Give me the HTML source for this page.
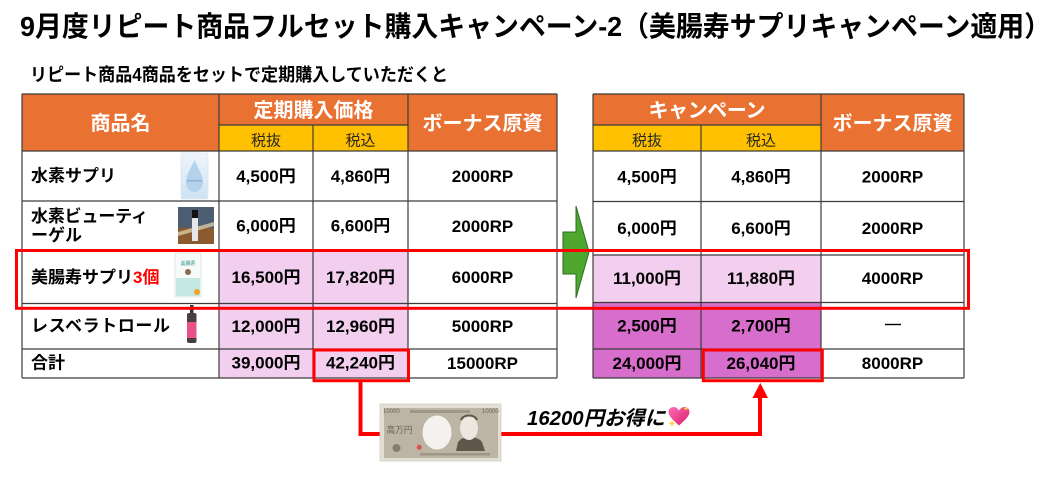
<!DOCTYPE html>
<html><head><meta charset="utf-8">
<style>
html,body{margin:0;padding:0;background:#fff;}
svg{display:block;}
text{font-family:"Liberation Sans","Noto Sans CJK JP",sans-serif;}
</style></head><body>
<svg width="1041" height="488" viewBox="0 0 1041 488" xmlns="http://www.w3.org/2000/svg">
<defs>
<linearGradient id="hg" x1="0" y1="0" x2="1" y2="1">
<stop offset="0" stop-color="#ff6fb5"/><stop offset="1" stop-color="#d81b6a"/>
</linearGradient>
<linearGradient id="pg" x1="0" y1="0" x2="0" y2="1">
<stop offset="0" stop-color="#eef5fb"/><stop offset="1" stop-color="#cfe2f2"/>
</linearGradient>
</defs>
<rect width="1041" height="488" fill="#fff"/>

<!-- Title -->
<text x="20" y="36" font-size="28" font-weight="bold" fill="#000" textLength="1031" lengthAdjust="spacingAndGlyphs">9月度リピート商品フルセット購入キャンペーン-2（美腸寿サプリキャンペーン適用）</text>
<text x="30" y="81" font-size="18" font-weight="bold" fill="#000" textLength="418" lengthAdjust="spacingAndGlyphs">リピート商品4商品をセットで定期購入していただくと</text>

<!-- LEFT TABLE fills -->
<rect x="22" y="94" width="535" height="57" fill="#E97132"/>
<rect x="219" y="125" width="189" height="26" fill="#FFC000"/>
<rect x="219" y="250" width="189" height="128" fill="#F2CEEF"/>

<!-- RIGHT TABLE fills -->
<rect x="593" y="94" width="371" height="57" fill="#E97132"/>
<rect x="593" y="125" width="228" height="26" fill="#FFC000"/>
<rect x="593" y="255" width="228" height="47.5" fill="#F2CEEF"/>
<rect x="593" y="302.5" width="228" height="75.5" fill="#D86ECC"/>

<!-- grid lines -->
<g stroke="#3c3c3c" stroke-width="1.2" fill="none">
<line x1="22" y1="94" x2="557" y2="94"/>
<line x1="219" y1="125" x2="408" y2="125"/>
<line x1="22" y1="151" x2="557" y2="151"/>
<line x1="22" y1="201" x2="557" y2="201"/>
<line x1="22" y1="250" x2="557" y2="250"/>
<line x1="22" y1="303.5" x2="557" y2="303.5"/>
<line x1="22" y1="349" x2="557" y2="349"/>
<line x1="22" y1="378" x2="557" y2="378"/>
<line x1="22" y1="94" x2="22" y2="378"/>
<line x1="219" y1="94" x2="219" y2="378"/>
<line x1="313" y1="125" x2="313" y2="378"/>
<line x1="408" y1="94" x2="408" y2="378"/>
<line x1="557" y1="94" x2="557" y2="378"/>

<line x1="593" y1="94" x2="964" y2="94"/>
<line x1="593" y1="125" x2="821" y2="125"/>
<line x1="593" y1="151" x2="964" y2="151"/>
<line x1="593" y1="201.5" x2="964" y2="201.5"/>
<line x1="593" y1="255" x2="964" y2="255"/>
<line x1="593" y1="302.5" x2="964" y2="302.5"/>
<line x1="593" y1="349" x2="964" y2="349"/>
<line x1="593" y1="378" x2="964" y2="378"/>
<line x1="593" y1="94" x2="593" y2="378"/>
<line x1="701" y1="125" x2="701" y2="378"/>
<line x1="821" y1="94" x2="821" y2="378"/>
<line x1="964" y1="94" x2="964" y2="378"/>
</g>

<!-- header text -->
<g font-weight="bold" font-size="20" fill="#fff" text-anchor="middle">
<text x="120.5" y="130">商品名</text>
<text x="313.5" y="117">定期購入価格</text>
<text x="482.5" y="130">ボーナス原資</text>
<text x="707" y="117" textLength="117" lengthAdjust="spacing">キャンペーン</text>
<text x="892.5" y="130">ボーナス原資</text>
</g>
<g font-size="15" fill="#262626" text-anchor="middle">
<text x="266" y="145.5">税抜</text>
<text x="360.5" y="145.5">税込</text>
<text x="647" y="145.5">税抜</text>
<text x="761" y="145.5">税込</text>
</g>

<!-- left table body -->
<g font-weight="bold" font-size="17" fill="#000">
<text x="31" y="181.5">水素サプリ</text>
<text x="31" y="222" textLength="117" lengthAdjust="spacing">水素ビューティ</text>
<text x="31" y="241">ーゲル</text>
<text x="31" y="283">美腸寿サプリ<tspan fill="#ff0000">3個</tspan></text>
<text x="31" y="331.5" textLength="139" lengthAdjust="spacing">レスベラトロール</text>
<text x="31" y="368.5">合計</text>
</g>
<g font-weight="bold" font-size="17" fill="#000" text-anchor="middle">
<text x="266" y="182">4,500円</text>
<text x="360.5" y="182">4,860円</text>
<text x="482.5" y="182">2000RP</text>
<text x="266" y="231.5">6,000円</text>
<text x="360.5" y="231.5">6,600円</text>
<text x="482.5" y="232">2000RP</text>
<text x="266" y="283">16,500円</text>
<text x="360.5" y="283">17,820円</text>
<text x="482.5" y="283">6000RP</text>
<text x="266" y="332">12,000円</text>
<text x="360.5" y="332">12,960円</text>
<text x="482.5" y="332">5000RP</text>
<text x="266" y="368.5">39,000円</text>
<text x="360.5" y="368.5">42,240円</text>
<text x="482.5" y="369">15000RP</text>

<text x="647" y="182.5">4,500円</text>
<text x="761" y="182.5">4,860円</text>
<text x="892.5" y="182.5">2000RP</text>
<text x="647" y="234">6,000円</text>
<text x="761" y="234">6,600円</text>
<text x="892.5" y="234">2000RP</text>
<text x="647" y="284">11,000円</text>
<text x="761" y="284">11,880円</text>
<text x="892.5" y="284">4000RP</text>
<text x="647" y="331.5">2,500円</text>
<text x="761" y="331.5">2,700円</text>
<text x="647" y="369">24,000円</text>
<text x="761" y="369">26,040円</text>
<text x="892.5" y="369">8000RP</text>
</g>
<line x1="885" y1="324.5" x2="901" y2="324.5" stroke="#000" stroke-width="1.4"/>

<!-- product images -->
<!-- supplement pouch -->
<rect x="181" y="153" width="27" height="46" rx="2" fill="url(#pg)" stroke="#dbe7f2" stroke-width="0.8"/>
<path d="M194.5,160 C190,170 186,176 186,182 C186,188 190,192 194.5,192 C199,192 203,188 203,182 C203,176 199,170 194.5,160 Z" fill="#b5d2ec"/>
<rect x="187" y="180" width="15" height="1.5" fill="#8fb3d6"/>
<!-- gel -->
<rect x="178" y="207" width="36" height="21" fill="#4d5d72"/>
<rect x="178" y="228" width="36" height="16" fill="#8b5a2e"/>
<path d="M178,232 L214,222 L214,226 L178,236 Z" fill="#d9caa0" opacity="0.8"/>
<rect x="192" y="210" width="6" height="31" fill="#e6e6ea"/>
<rect x="192" y="210" width="6" height="8" fill="#111"/>
<!-- biyojyu pack -->
<rect x="175" y="253" width="26" height="44" rx="1.5" fill="#f6fbfa" stroke="#cfe6e2" stroke-width="0.8"/>
<rect x="176" y="278" width="24" height="18" fill="#c3e8e2"/>
<text x="188" y="265" font-size="5" fill="#6bb3a8" text-anchor="middle" font-weight="bold">美腸寿</text>
<circle cx="188" cy="272" r="3" fill="#8a6a4a"/>
<circle cx="197" cy="292" r="3" fill="#f4a22a"/>
<!-- bottle -->
<rect x="190" y="305" width="3.5" height="10" fill="#3a3232"/>
<rect x="187" y="313" width="9.5" height="30" rx="2" fill="#4a3e40"/>
<rect x="187" y="322" width="9.5" height="16" fill="#e8508a"/>

<!-- green arrow -->
<polygon points="563,232 576,232 576,206 589,252 576,298 576,274 563,274" fill="#4EA72E" stroke="#2E6B1E" stroke-width="1"/>

<!-- red boxes -->
<rect x="16.5" y="250.5" width="952" height="57.8" fill="none" stroke="#ff0000" stroke-width="3"/>
<rect x="314" y="350" width="94.5" height="30.7" fill="none" stroke="#ff0000" stroke-width="3"/>
<rect x="703.3" y="350" width="119" height="30.7" fill="none" stroke="#ff0000" stroke-width="3"/>

<!-- connector -->
<polyline points="360.5,382 360.5,434 760,434 760,396" fill="none" stroke="#ff0000" stroke-width="4"/>
<polygon points="752.5,398 768,398 760.3,383" fill="#ff0000"/>

<!-- bill -->
<rect x="380" y="404" width="121" height="57" fill="#e3dfd5" stroke="#d3cec2" stroke-width="0.8"/>
<rect x="384" y="408" width="114" height="50" fill="#bcb4a5"/>
<rect x="410" y="410" width="60" height="3" fill="#9e9686"/>
<rect x="420" y="453" width="70" height="2.5" fill="#9e9686"/>
<ellipse cx="437" cy="432.5" rx="14.5" ry="17" fill="#f4f2ee"/>
<path d="M456,451 L458,442 C461,438 466,437 469,437 C473,437 479,438 482,442 L485,451 Z" fill="#5f574c"/>
<ellipse cx="469" cy="428" rx="9" ry="12" fill="#ece8e0"/>
<path d="M461,420 C463,414 475,414 477,420" fill="none" stroke="#5f574c" stroke-width="2"/>
<text x="383" y="413" font-size="6" fill="#6b6457">10000</text>
<text x="482" y="413" font-size="6" fill="#6b6457">10000</text>
<text x="386.5" y="433" font-size="9" fill="#6b6457" textLength="26" lengthAdjust="spacingAndGlyphs">高万円</text>
<circle cx="396.5" cy="448" r="4" fill="#857d70"/>
<circle cx="419.3" cy="447.3" r="2.5" fill="#d9534f"/>

<!-- savings text -->
<text x="527" y="425" font-size="20" font-weight="bold" font-style="italic" fill="#000" textLength="138" lengthAdjust="spacingAndGlyphs">16200円お得に</text>
<path d="M679,425.5 C672,419.5 668.5,415.5 668.5,411.8 C668.5,408.8 671,407 673.5,407 C676,407 677.8,408.6 679,410.6 C680.2,408.6 682,407 684.5,407 C687,407 689.5,408.8 689.5,411.8 C689.5,415.5 686,419.5 679,425.5 Z" fill="url(#hg)"/>
<path d="M672,420 L673,422.5 L675.5,423.5 L673,424.5 L672,427 L671,424.5 L668.5,423.5 L671,422.5 Z" fill="#ffd54a"/>
<path d="M686,406 L686.7,407.8 L688.5,408.5 L686.7,409.2 L686,411 L685.3,409.2 L683.5,408.5 L685.3,407.8 Z" fill="#ffd54a"/>
</svg>
</body></html>
